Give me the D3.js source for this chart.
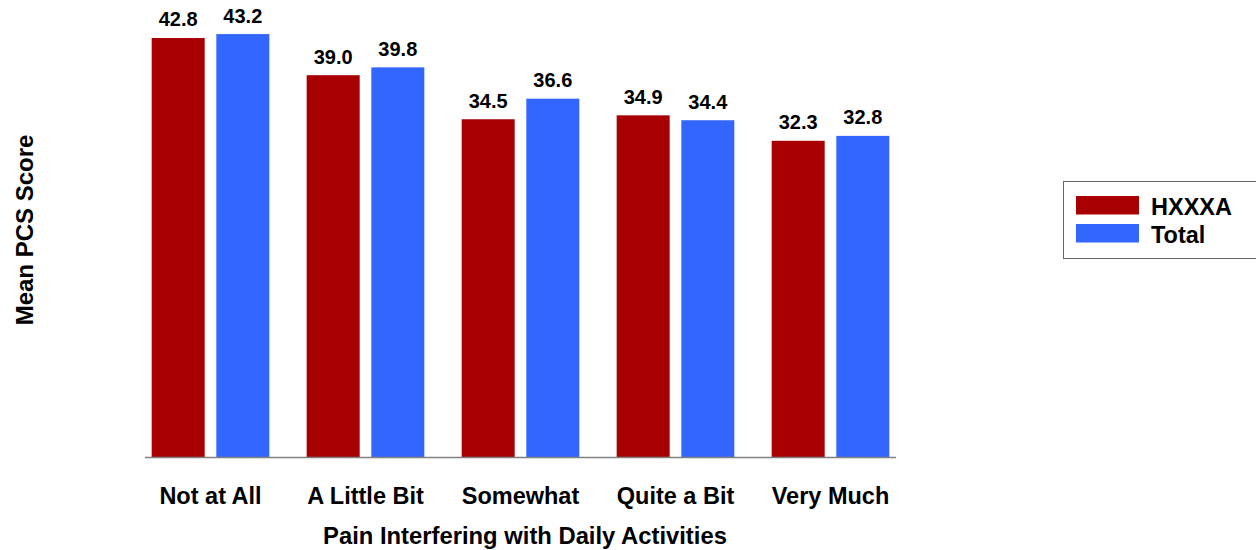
<!DOCTYPE html>
<html>
<head>
<meta charset="utf-8">
<script src="https://cdn.jsdelivr.net/npm/d3@7"></script>
<style>
  html, body { margin: 0; padding: 0; background: #fff; }
  svg { display: block; font-family: "Liberation Sans", Arial, Helvetica, sans-serif; }
</style>
</head>
<body>
<svg id="chart" width="1256" height="550"></svg>
<script>
// Mean PCS score by pain interference level
const categories = ["Not at All", "A Little Bit", "Somewhat", "Quite a Bit", "Very Much"];
const seriesNames = ["HXXXA", "Total"];
const hxxxaValues = [42.8, 39.0, 34.5, 34.9, 32.3];
const totalValues = [43.2, 39.8, 36.6, 34.4, 32.8];
const seriesColors = ["#A80000", "#3366FF"];

const svg = d3.select("#chart");

const baseY = 457;
const x0 = d3.scaleBand()
  .domain(categories)
  .range([133, 908])
  .paddingInner(0.241)
  .paddingOuter(0.1205);

const x1 = d3.scaleBand()
  .domain(seriesNames)
  .range([0, x0.bandwidth()])
  .paddingInner(0.18)
  .paddingOuter(0);

const y = d3.scaleLinear()
  .domain([0, 45])
  .range([baseY, baseY - 45 * 9.79]);

const color = d3.scaleOrdinal().domain(seriesNames).range(seriesColors);

const rows = categories.map((c, i) => ({
  category: c,
  values: [
    { series: seriesNames[0], value: hxxxaValues[i] },
    { series: seriesNames[1], value: totalValues[i] }
  ]
}));

const groups = svg.append("g")
  .selectAll("g")
  .data(rows)
  .join("g")
  .attr("transform", d => `translate(${x0(d.category)},0)`);

groups.selectAll("rect")
  .data(d => d.values)
  .join("rect")
  .attr("x", d => x1(d.series))
  .attr("y", d => y(d.value))
  .attr("width", x1.bandwidth())
  .attr("height", d => y(0) - y(d.value))
  .attr("fill", d => color(d.series));

groups.selectAll("text.val")
  .data(d => d.values)
  .join("text")
  .attr("class", "val")
  .attr("x", d => x1(d.series) + x1.bandwidth() / 2)
  .attr("y", d => y(d.value) - 11.5)
  .attr("text-anchor", "middle")
  .attr("font-size", 20)
  .attr("font-weight", "bold")
  .attr("fill", "#000")
  .text(d => d.value.toFixed(1));

// Category axis
const xAxis = svg.append("g")
  .attr("transform", `translate(0,${baseY})`)
  .call(d3.axisBottom(x0).tickSize(0).tickPadding(30));
xAxis.select(".domain").remove();
xAxis.selectAll("text")
  .attr("font-size", 23.5)
  .attr("font-weight", "bold")
  .attr("fill", "#000")
  .attr("font-family", "Liberation Sans, Arial, sans-serif");

svg.append("line")
  .attr("x1", 145).attr("x2", 896)
  .attr("y1", baseY + 0.5).attr("y2", baseY + 0.5)
  .attr("stroke", "#808080")
  .attr("stroke-width", 1.5);

// Axis titles
svg.append("text")
  .attr("x", 525)
  .attr("y", 544)
  .attr("text-anchor", "middle")
  .attr("font-size", 23.8)
  .attr("font-weight", "bold")
  .text("Pain Interfering with Daily Activities");

svg.append("text")
  .attr("transform", "translate(33,230) rotate(-90)")
  .attr("text-anchor", "middle")
  .attr("font-size", 24)
  .attr("font-weight", "bold")
  .text("Mean PCS Score");

// Legend
const legend = svg.append("g");
legend.append("rect")
  .attr("x", 1063.5).attr("y", 181.5)
  .attr("width", 220).attr("height", 77)
  .attr("fill", "#fff")
  .attr("stroke", "#666")
  .attr("stroke-width", 1);

seriesNames.forEach((s, i) => {
  legend.append("rect")
    .attr("x", 1076).attr("y", 196 + i * 28)
    .attr("width", 63).attr("height", 18.5)
    .attr("fill", color(s));
  legend.append("text")
    .attr("x", 1151).attr("y", 214.5 + i * 28)
    .attr("font-size", 23.5)
    .attr("font-weight", "bold")
    .text(s);
});
</script>
</body>
</html>
